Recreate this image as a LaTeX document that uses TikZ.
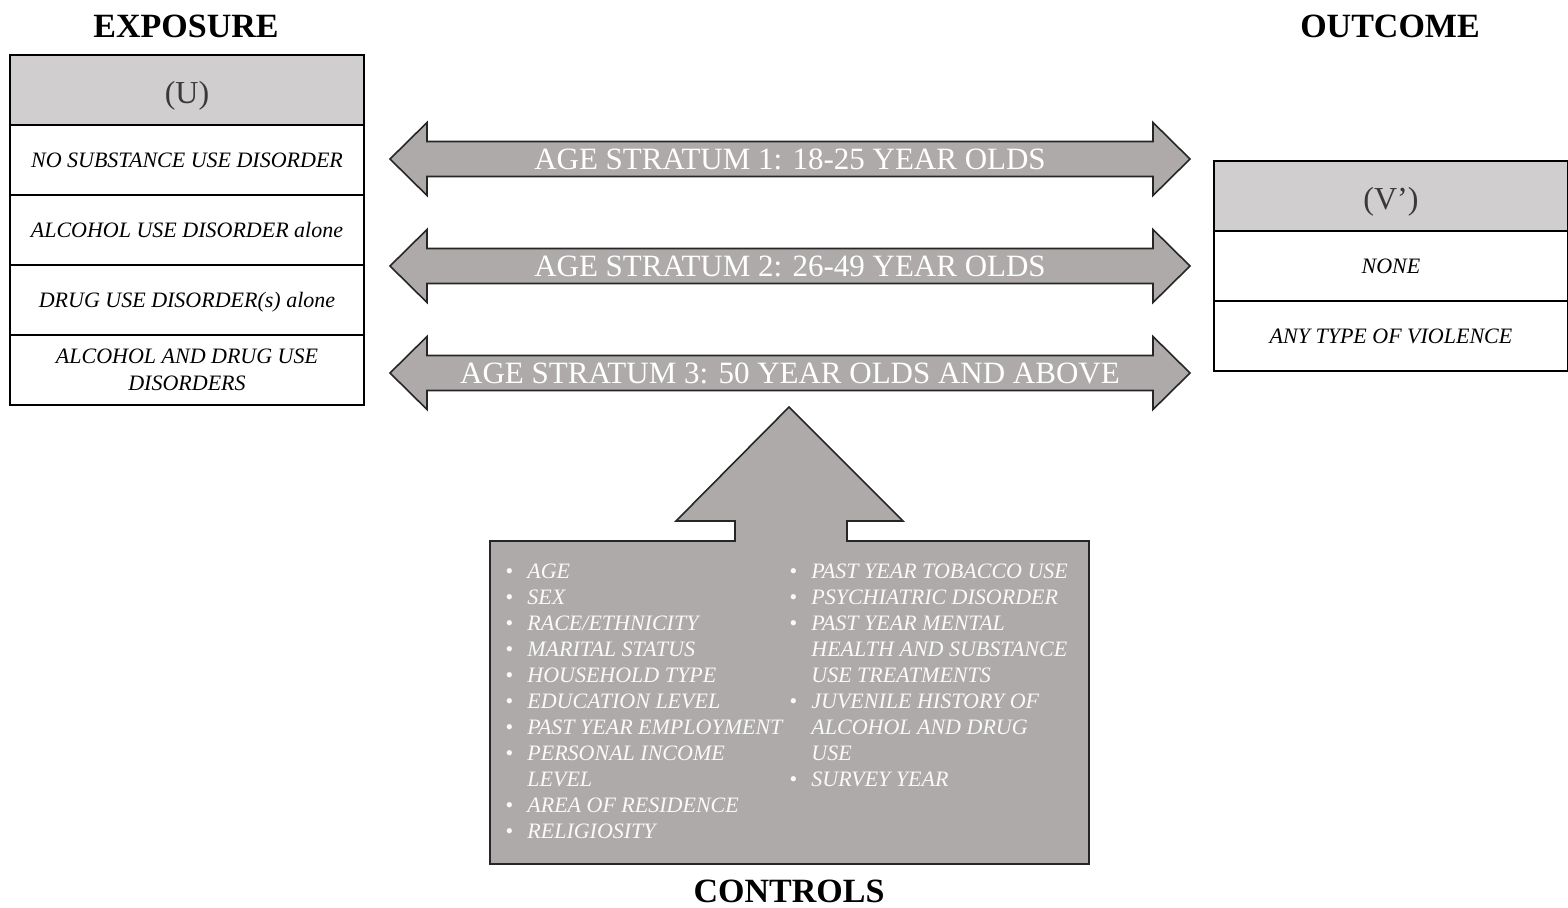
\documentclass[tikz,border=0pt]{standalone}
\usepackage{fontspec}
\setmainfont{Liberation Serif}
\usetikzlibrary{positioning}
\definecolor{cellgrey}{HTML}{D0CECE}
\definecolor{arrowgrey}{HTML}{AEAAAA}
\definecolor{edgedark}{HTML}{262626}
\definecolor{headtext}{HTML}{3B3838}
\definecolor{listwhite}{HTML}{FAFAFA}
\newcommand{\ctlitem}{\makebox[11pt][l]{\textbullet}}

\begin{document}
\begin{tikzpicture}[x=0.5pt, y=-0.5pt,
  sectiontitle/.style={font=\fontsize{17}{17}\selectfont\bfseries, anchor=base, inner sep=0pt},
  headcell/.style={draw=black, line width=0.7pt, fill=cellgrey, outer sep=0pt, minimum width=177pt, minimum height=35pt,
    text height=13pt, text depth=0pt, text=headtext, font=\fontsize{16}{16}\selectfont},
  rowcell/.style={draw=black, line width=0.7pt, fill=white, outer sep=0pt, minimum width=177pt, minimum height=35pt,
    align=center, text depth=0pt, font=\fontsize{11}{13.5}\selectfont\itshape},
  stratum/.style={draw=edgedark, line width=0.8pt, fill=arrowgrey, line join=miter},
  stratumtext/.style={white, anchor=base, font=\fontsize{15.5}{15.5}\selectfont},
  listtext/.style={listwhite, anchor=north west, inner sep=0pt, font=\fontsize{11}{13}\selectfont\itshape}]

  \useasboundingbox (0,0) rectangle (1568,907);

  % Section titles
  \node[sectiontitle] (exptitle) at (186,37) {EXPOSURE};
  \node[sectiontitle] (outtitle) at (1390,37) {OUTCOME};
  \node[sectiontitle] (ctltitle) at (789,902) {CONTROLS};

  % Exposure table (left)
  \node[headcell] (uhead) at (187,90) {(U)};
  \node[rowcell, below=0pt of uhead] (urow1) {NO SUBSTANCE USE DISORDER};
  \node[rowcell, below=0pt of urow1] (urow2) {ALCOHOL USE DISORDER alone};
  \node[rowcell, below=0pt of urow2] (urow3) {DRUG USE DISORDER(s) alone};
  \node[rowcell, below=0pt of urow3] (urow4) {ALCOHOL AND DRUG USE\\DISORDERS};

  % Outcome table (right)
  \node[headcell] (vhead) at (1391,196) {(V’)};
  \node[rowcell, below=0pt of vhead] (vrow1) {NONE};
  \node[rowcell, below=0pt of vrow1] (vrow2) {ANY TYPE OF VIOLENCE};

  % Age strata - double arrows
  \foreach \c/\lbl [count=\i] in {159/{AGE STRATUM 1: 18-25 YEAR OLDS},
                                  266/{AGE STRATUM 2: 26-49 YEAR OLDS},
                                  373/{AGE STRATUM 3: 50 YEAR OLDS AND ABOVE}} {
    \draw[stratum] (390,\c) -- (427,\c-36.5) -- (427,\c-17.5) -- (1153,\c-17.5) -- (1153,\c-36.5)
      -- (1190,\c) -- (1153,\c+36.5) -- (1153,\c+17.5) -- (427,\c+17.5) -- (427,\c+36.5) -- cycle;
    \node[stratumtext] (stratum\i) at (790,\c+10.5) {\lbl};
  }

  % Controls box with up arrow
  \draw[stratum] (490,541) -- (735,541) -- (735,521) -- (676,521) -- (789,407) -- (903,521) -- (847,521)
    -- (847,541) -- (1089,541) -- (1089,864) -- (490,864) -- cycle;

  \node[listtext] (ctlleft) at (505,560) {%
    \begin{tabular}{@{}l@{}l@{}}
      \ctlitem & AGE\\
      \ctlitem & SEX\\
      \ctlitem & RACE/ETHNICITY\\
      \ctlitem & MARITAL STATUS\\
      \ctlitem & HOUSEHOLD TYPE\\
      \ctlitem & EDUCATION LEVEL\\
      \ctlitem & PAST YEAR EMPLOYMENT\\
      \ctlitem & PERSONAL INCOME\\
               & LEVEL\\
      \ctlitem & AREA OF RESIDENCE\\
      \ctlitem & RELIGIOSITY
    \end{tabular}};
  \node[listtext] (ctlright) at (789,560) {%
    \begin{tabular}{@{}l@{}l@{}}
      \ctlitem & PAST YEAR TOBACCO USE\\
      \ctlitem & PSYCHIATRIC DISORDER\\
      \ctlitem & PAST YEAR MENTAL\\
               & HEALTH AND SUBSTANCE\\
               & USE TREATMENTS\\
      \ctlitem & JUVENILE HISTORY OF\\
               & ALCOHOL AND DRUG\\
               & USE\\
      \ctlitem & SURVEY YEAR
    \end{tabular}};
\end{tikzpicture}
\end{document}
